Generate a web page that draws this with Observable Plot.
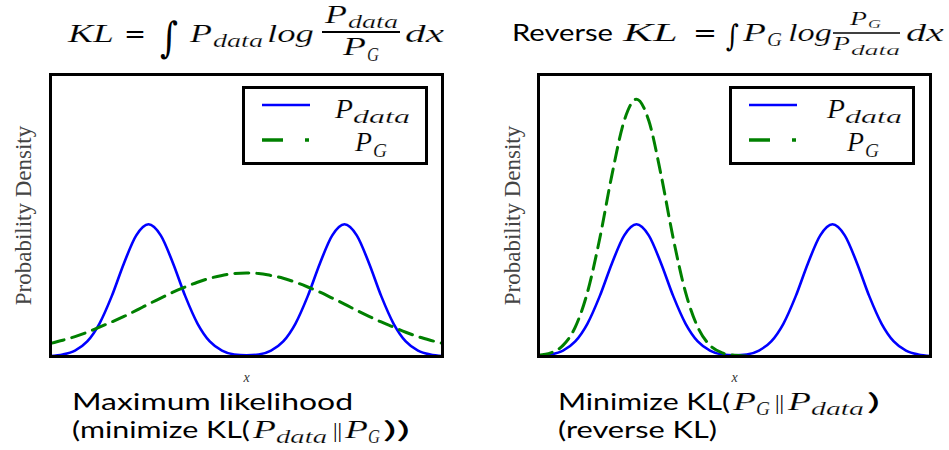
<!DOCTYPE html>
<html><head><meta charset="utf-8">
<script src="https://cdn.jsdelivr.net/npm/d3@7"></script>
<script src="https://cdn.jsdelivr.net/npm/@observablehq/plot@0.6"></script>
<style>
body{margin:0;background:#fff;width:949px;height:450px;position:relative;overflow:hidden}
.panel{position:absolute;top:60px;width:475px;height:330px}
.panel svg{max-width:none !important}
#overlay{position:absolute;left:0;top:0;z-index:5;pointer-events:none}
.m{font-family:"Liberation Serif",serif;font-style:italic;fill:#000;stroke:#fff;stroke-width:0.2px}
.r{font-family:"DejaVu Serif",serif;fill:#000}
.rr{font-family:"Liberation Serif",serif;fill:#000}
.cm{font-family:"Liberation Serif",serif;font-style:italic;fill:#000;stroke:#fff;stroke-width:0.2px}
.s{font-family:"Lato","Open Sans",sans-serif;fill:#000}
</style></head><body>
<div id="left" class="panel" style="left:0px"></div>
<div id="right" class="panel" style="left:488px"></div>
<svg id="overlay" width="949" height="450"></svg>
<script>
// x sample positions
const xValues = [-4,-3.75,-3.5,-3.25,-3,-2.75,-2.5,-2.25,-2,-1.75,-1.5,-1.25,-1,-0.75,-0.5,-0.25,0,0.25,0.5,0.75,1,1.25,1.5,1.75,2,2.25,2.5,2.75,3,3.25,3.5,3.75,4];
// P_data (bimodal), same in both panels
const pData = [0.001,0.005,0.015,0.038,0.083,0.152,0.235,0.305,0.333,0.305,0.235,0.152,0.083,0.038,0.015,0.005,0.003,0.005,0.015,0.038,0.083,0.152,0.235,0.305,0.333,0.305,0.235,0.152,0.083,0.038,0.015,0.005,0.001];
// P_G, maximum likelihood fit (broad)
const pGForward = [0.033,0.041,0.050,0.061,0.074,0.087,0.101,0.116,0.132,0.147,0.162,0.175,0.187,0.197,0.204,0.209,0.210,0.209,0.204,0.197,0.187,0.175,0.162,0.147,0.132,0.116,0.101,0.087,0.074,0.061,0.050,0.041,0.033];
// P_G, reverse KL fit (one mode)
const pGReverse = [0.003,0.009,0.028,0.074,0.162,0.297,0.458,0.594,0.648,0.594,0.458,0.297,0.162,0.074,0.028,0.009,0.003,0.001,0,0,0,0,0,0,0,0,0,0,0,0,0,0,0];
const yDomain = [0, 0.71];
const xDomain = [-4, 4];
const xLabel = "x";
const yLabel = "Probability Density";

function panel(green, ylabDx) {
  const rows = xValues.map((x, i) => ({x, data: pData[i], g: green[i]}));
  return Plot.plot({
    width: 475, height: 330,
    marginLeft: 50, marginRight: 33, marginTop: 14, marginBottom: 34,
    style: {fontFamily: "Liberation Serif", fontSize: "23px", background: "transparent"},
    x: {domain: xDomain, axis: null},
    y: {domain: yDomain, axis: null},
    marks: [
      Plot.lineY(rows, {x: "x", y: "data", stroke: "#0000ff", strokeWidth: 2.6, curve: "monotone-x"}),
      Plot.lineY(rows, {x: "x", y: "g", stroke: "#008000", strokeWidth: 3, strokeDasharray: "14,8", curve: "monotone-x"}),
      Plot.frame({stroke: "#000", strokeWidth: 3}),
      Plot.text([xLabel], {frameAnchor: "bottom", dy: 21, lineAnchor: "middle", textAnchor: "middle", fontFamily: "Liberation Serif", fontStyle: "italic", fontSize: 14, fill: "#333"}),
      Plot.text([yLabel], {frameAnchor: "left", rotate: -90, dx: ylabDx, textAnchor: "middle", lineAnchor: "middle", fontFamily: "Liberation Serif", fontSize: 23, fill: "#444"})
    ]
  });
}
document.getElementById("left").append(panel(pGForward, -27));
document.getElementById("right").append(panel(pGReverse, -26));

// text overlay: titles, legends, captions
function T(x, y, s, size, cls, len) {
  return `<text x="${x}" y="${y}" font-size="${size}" class="${cls}"` +
    (len ? ` textLength="${len}" lengthAdjust="spacingAndGlyphs"` : "") + `>${s}</text>`;
}
let o = "";
// left title
o += T(68, 42, "KL", 26, "m", 46);
o += T(124, 42, "=", 24, "r", 22);
o += T(160, 52, "∫", 42, "r", 18);
o += T(190, 42, "P", 26, "m", 22) + T(213, 47, "data", 18, "m", 50);
o += T(267, 42, "log", 26, "m", 47);
o += `<line x1="322" x2="400" y1="32" y2="32" stroke="#000" stroke-width="1.8"/>`;
o += T(325, 23, "P", 26, "m", 22) + T(348, 28, "data", 18, "m", 50);
o += T(343, 55, "P", 26, "m", 23) + T(367, 61, "G", 18, "m", 12);
o += T(405, 42, "dx", 26, "m", 39);
// right title
o += T(512, 41, "Reverse", 24, "s", 101);
o += T(623, 41, "KL", 26, "m", 55);
o += T(693, 41, "=", 24, "r", 24);
o += T(726, 46, "∫", 30, "r", 13);
o += T(743, 41, "P", 26, "m", 23) + T(767, 46, "G", 18, "m", 15);
o += T(788, 41, "log", 26, "m", 44);
o += `<line x1="833" x2="900" y1="33" y2="33" stroke="#000" stroke-width="1.6"/>`;
o += T(850, 25, "P", 18, "m", 17) + T(868, 28, "G", 13, "m", 13);
o += T(833, 50, "P", 18, "m", 17) + T(851, 55, "data", 14, "m", 49);
o += T(906, 41, "dx", 26, "m", 38);
// legends
function legend(L, tx) {
  let s = `<rect x="${L + 1.5}" y="87.5" width="183" height="76" fill="#fff" stroke="#000" stroke-width="3"/>`;
  s += `<line x1="${L + 20}" x2="${L + 68}" y1="105" y2="105" stroke="#0000ff" stroke-width="2.6"/>`;
  s += `<line x1="${L + 20}" x2="${L + 41}" y1="140" y2="140" stroke="#008000" stroke-width="3.5"/>`;
  s += `<line x1="${L + 63}" x2="${L + 67}" y1="140" y2="140" stroke="#008000" stroke-width="3.5"/>`;
  s += T(tx, 118, "P", 27, "cm", 18) + T(tx + 18, 123, "data", 19, "cm", 57);
  s += T(tx + 20, 151, "P", 27, "cm", 17) + T(tx + 38, 157, "G", 19, "cm", 14);
  return s;
}
o += legend(242, 335);
o += legend(729, 827);
// captions
o += T(72, 410, "Maximum likelihood", 23, "s", 281);
o += T(72, 438, "(minimize KL(", 23, "s", 178);
o += T(253, 438, "P", 26, "m", 23) + T(276, 443, "data", 18, "m", 51);
o += T(333, 437, "||", 22, "rr", 9);
o += T(345, 438, "P", 26, "m", 23) + T(368, 443, "G", 18, "m", 12);
o += T(383, 438, "))", 23, "s", 27);
o += T(558, 410, "Minimize KL(", 23, "s", 172);
o += T(733, 410, "P", 26, "m", 23) + T(756, 415, "G", 18, "m", 14);
o += T(775, 409, "||", 22, "rr", 9);
o += T(788, 410, "P", 26, "m", 23) + T(811, 415, "data", 18, "m", 53);
o += T(867, 410, ")", 23, "s", 13);
o += T(558, 438, "(reverse KL)", 23, "s", 159);
document.getElementById("overlay").innerHTML = o;
</script>
</body></html>
